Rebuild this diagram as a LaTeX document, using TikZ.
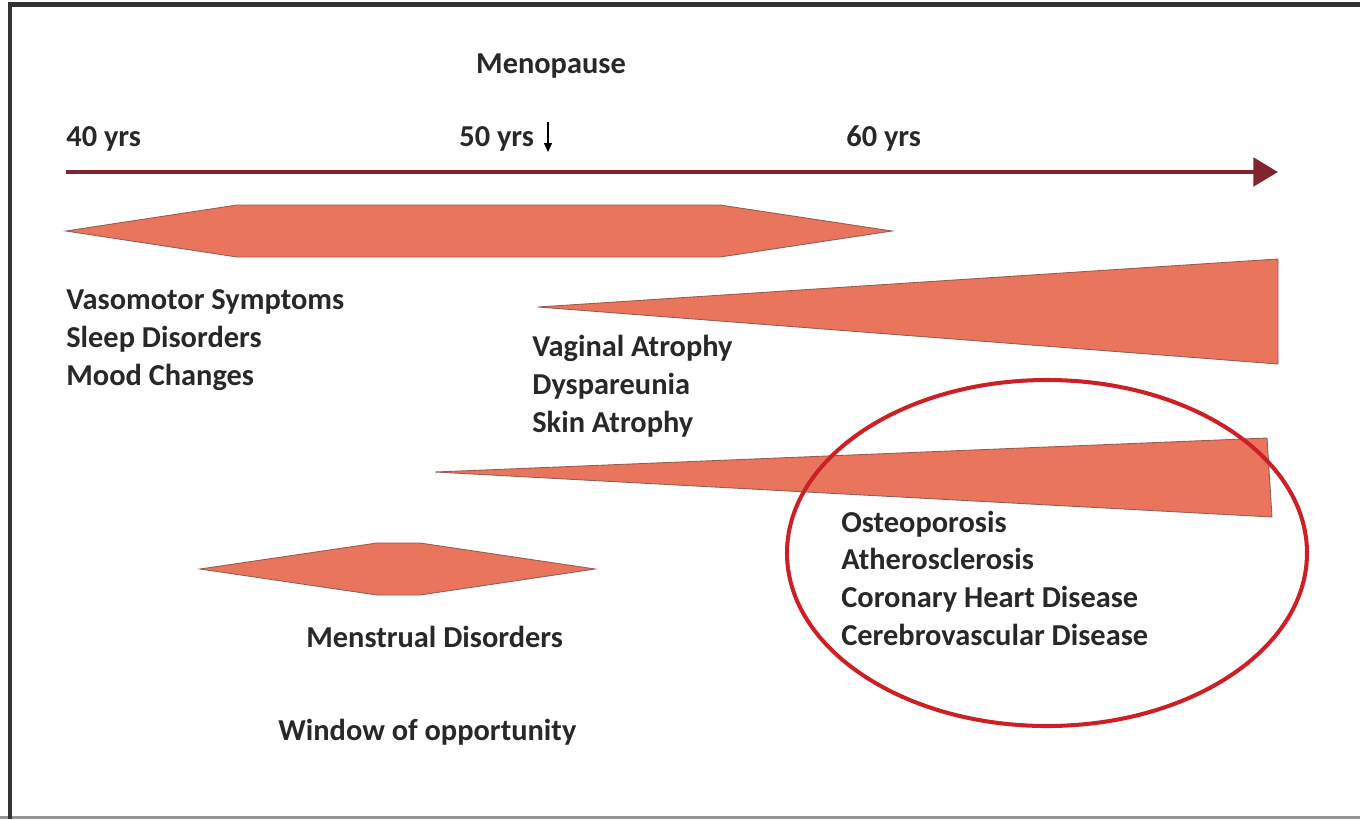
\documentclass[tikz,border=0pt]{standalone}
\usepackage{fontspec}
\setmainfont{Carlito}
\usetikzlibrary{arrows.meta,positioning}
\definecolor{BandSalmon}{RGB}{232,117,92}
\definecolor{BandEdge}{RGB}{150,92,82}
\definecolor{AxisRed}{RGB}{128,36,48}
\definecolor{RingRed}{RGB}{205,32,38}
\definecolor{LabelGray}{RGB}{40,40,40}
\definecolor{FrameDark}{RGB}{50,50,50}
\definecolor{FrameLight}{RGB}{150,150,150}

\begin{document}
\begin{tikzpicture}[x=0.02cm, y=-0.02cm,
    band/.style={draw=BandEdge, line width=0.5pt, fill=BandSalmon},
    lbl/.style={anchor=base west, align=left, inner sep=0pt, text=LabelGray,
        font=\fontsize{17.3}{21.4}\selectfont\bfseries}]
    \useasboundingbox (0,0) rectangle (1360,819);
    \draw[FrameLight, line width=1.6pt] (0,817.5) -- (1360,817.5);
    \draw[FrameDark, line width=2.8pt] (10,819) -- (10,4.5) -- (1360,4.5);

    \node[lbl, anchor=base] (meno) at (551,73) {Menopause};
    \node[lbl] (y40) at (66,146) {40 yrs};
    \node[lbl] (y50) at (459,146) {50 yrs};
    \node[lbl] (y60) at (846,146) {60 yrs};

    \coordinate (menotop) at (548,122);
    \coordinate (menobot) at (548,152);
    \draw[-{Triangle[length=5pt, width=4.5pt]}, line width=0.6pt, black] (menotop) -- (menobot);

    \coordinate (axisstart) at (66,172);
    \coordinate (axisend) at (1278,172);
    \draw[-{Triangle[length=14pt, width=16pt]}, line width=2.8pt, AxisRed] (axisstart) -- (axisend);

    \draw[band] (66,231) -- (237,205) -- (720,205) -- (892,231) -- (720,257) -- (237,257) -- cycle;
    \draw[band] (538,307) -- (1278,259) -- (1278,364) -- cycle;
    \draw[band] (435,472) -- (1267,438) -- (1272,517) -- cycle;
    \draw[band] (200,569) -- (377,543) -- (420,543) -- (595,569) -- (420,595) -- (377,595) -- cycle;

    \node[lbl] (vaso) at (66,385) {Vasomotor Symptoms\\Sleep Disorders\\Mood Changes};
    \node[lbl] (vag) at (532,432) {Vaginal Atrophy\\Dyspareunia\\Skin Atrophy};
    \node[lbl] (osteo) at (841,645) {Osteoporosis\\Atherosclerosis\\Coronary Heart Disease\\Cerebrovascular Disease};
    \node[lbl] (mens) at (306,647) {Menstrual Disorders};
    \node[lbl] (window) at (278,740) {Window of opportunity};

    \draw[RingRed, line width=2.3pt] (1047,553) ellipse [x radius=260, y radius=173];
\end{tikzpicture}
\end{document}
